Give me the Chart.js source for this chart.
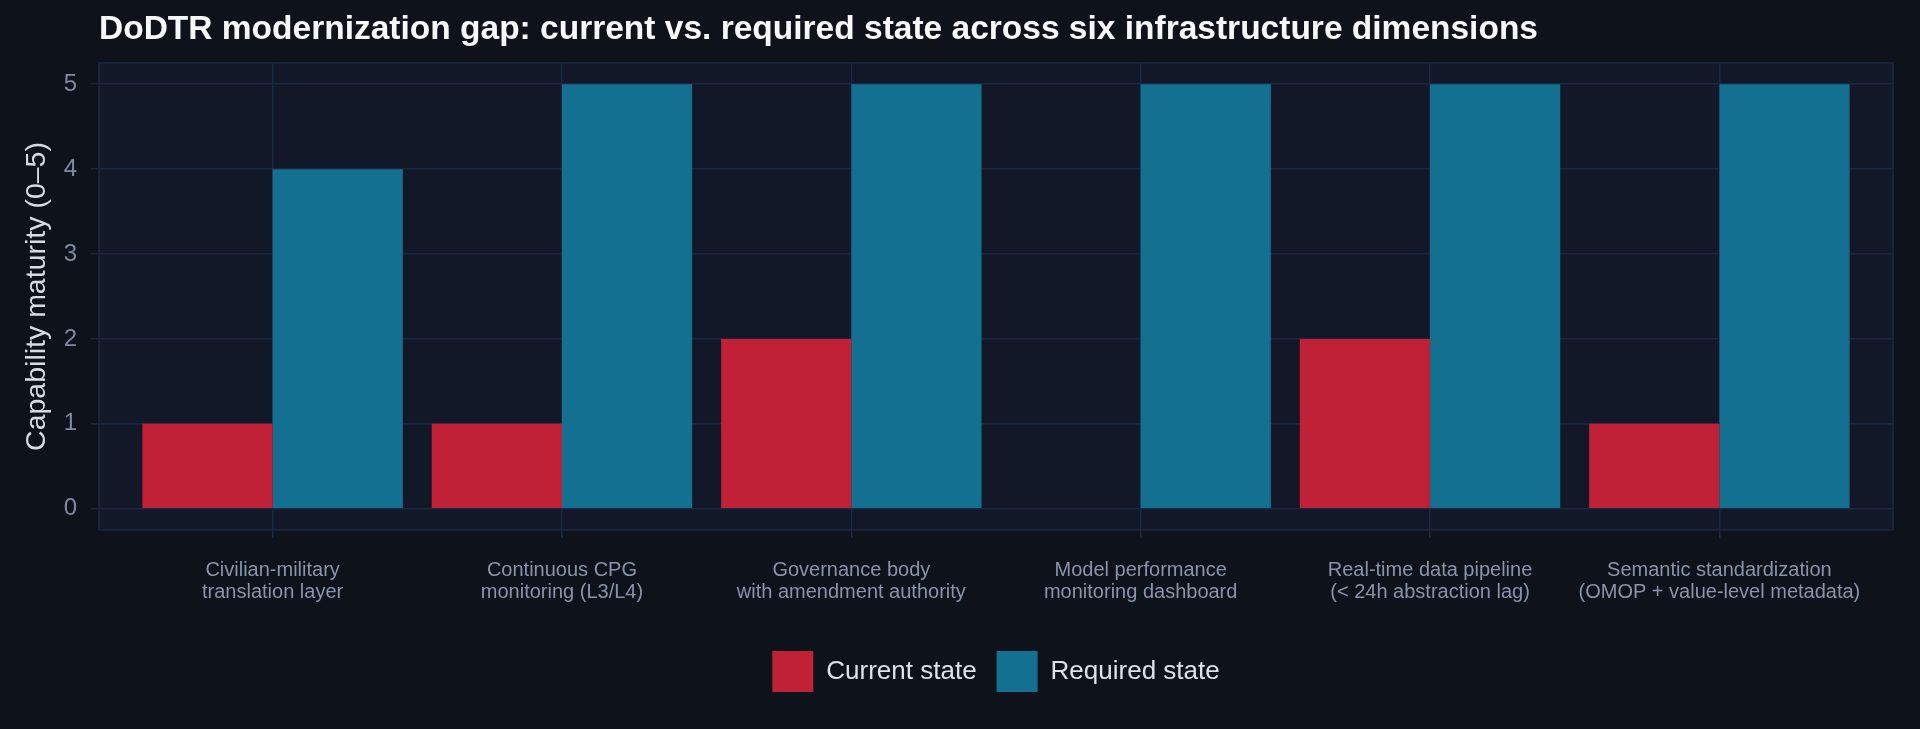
<!doctype html>
<html lang="en">

<head>
  <title>DoDTR modernization gap</title>
  <meta charset="utf-8">
  <style>
    html, body { margin: 0; padding: 0; background: #0e121b; }
    #wrap { width: 1920px; height: 729px; }
  </style>
</head>

<body>
  <div id="wrap">
    <canvas id="grafico" width="1920" height="729"></canvas>
  </div>

  <script src="https://cdn.jsdelivr.net/npm/chart.js"></script>

  <script>
    // datos del grafico
    const categorias = [
      ["Civilian-military", "translation layer"],
      ["Continuous CPG", "monitoring (L3/L4)"],
      ["Governance body", "with amendment authority"],
      ["Model performance", "monitoring dashboard"],
      ["Real-time data pipeline", "(< 24h abstraction lag)"],
      ["Semantic standardization", "(OMOP + value-level metadata)"]
    ];
    const estadoActual = [1, 1, 2, 0, 2, 1];
    const estadoRequerido = [4, 5, 5, 5, 5, 5];
    const ticksY = [0, 1, 2, 3, 4, 5];
    const titulo = "DoDTR modernization gap: current vs. required state across six infrastructure dimensions";
    const tituloY = "Capability maturity (0\u20135)";
    const nombresSeries = ["Current state", "Required state"];

    const fuente = "'Liberation Sans', Arial, Helvetica, sans-serif";
    const colorRejilla = "#1b2842";

    // fondo del panel y titulo
    const panel = {
      id: 'panel',
      beforeDraw(chart) {
        const { ctx, chartArea: a } = chart;
        ctx.save();
        ctx.fillStyle = '#0e121b';
        ctx.fillRect(0, 0, chart.width, chart.height);
        ctx.fillStyle = '#121827';
        ctx.fillRect(a.left, a.top, a.right - a.left, a.bottom - a.top);
        ctx.strokeStyle = colorRejilla;
        ctx.lineWidth = 1.5;
        ctx.strokeRect(a.left, a.top, a.right - a.left, a.bottom - a.top);
        ctx.restore();
      },
      afterDraw(chart) {
        const { ctx, chartArea: a } = chart;
        ctx.save();
        ctx.fillStyle = '#f7f8fa';
        ctx.font = "bold 33.5px " + fuente;
        ctx.textBaseline = 'alphabetic';
        ctx.fillText(titulo, a.left, 39);
        ctx.restore();
      }
    };

    const lienzo = document.getElementById("grafico");
    const grafico = new Chart(lienzo, {
      type: 'bar',
      data: {
        datasets: [{
          label: nombresSeries[0],
          data: estadoActual.map((v, i) => ({ x: i, y: v })),
          backgroundColor: '#c02137',
          borderWidth: 0
        }, {
          label: nombresSeries[1],
          data: estadoRequerido.map((v, i) => ({ x: i, y: v })),
          backgroundColor: '#147090',
          borderWidth: 0
        }]
      },
      options: {
        responsive: false,
        animation: false,
        devicePixelRatio: 1,
        categoryPercentage: 0.9,
        barPercentage: 1.0,
        layout: { padding: { top: 63, right: 27, bottom: 27, left: 0 } },
        scales: {
          x: {
            type: 'linear',
            min: -0.6,
            max: 5.6,
            offset: false,
            afterBuildTicks: (s) => { s.ticks = categorias.map((c, i) => ({ value: i })); },
            afterFit: (s) => { s.height = 101; },
            grid: { color: colorRejilla, lineWidth: 1.5, tickLength: 8, offset: false },
            border: { display: false },
            ticks: {
              color: '#8794aa',
              font: { family: fuente, size: 20, lineHeight: 1.1 },
              padding: 21,
              maxRotation: 0,
              autoSkip: false,
              callback: (v) => categorias[v]
            }
          },
          y: {
            min: -0.25,
            max: 5.25,
            afterBuildTicks: (s) => { s.ticks = ticksY.map(v => ({ value: v })); },
            afterFit: (s) => { s.width = 99; },
            grid: { color: colorRejilla, lineWidth: 1.5, tickLength: 8 },
            border: { display: false },
            ticks: {
              color: '#7d8aa1',
              font: { family: fuente, size: 24 },
              padding: 14
            },
            title: {
              display: true,
              text: tituloY,
              color: '#d6dce6',
              font: { family: fuente, size: 28.5 },
              padding: { top: 20, bottom: 0 }
            }
          }
        },
        plugins: {
          legend: {
            position: 'bottom',
            fullSize: false,
            labels: {
              boxWidth: 41,
              boxHeight: 41,
              padding: 20,
              color: '#dde2ea',
              font: { family: fuente, size: 26 }
            }
          },
          tooltip: { enabled: false }
        }
      },
      plugins: [panel]
    });
  </script>
</body>

</html>
